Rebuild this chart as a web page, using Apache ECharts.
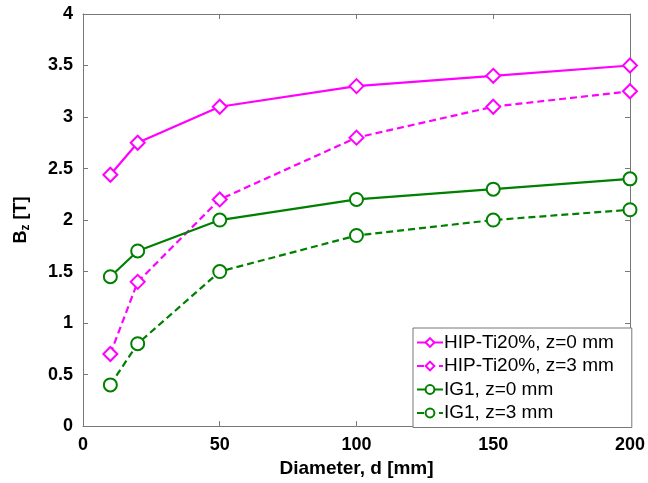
<!DOCTYPE html>
<html><head><meta charset="utf-8">
<script src="https://cdn.jsdelivr.net/npm/echarts@6/dist/echarts.min.js"></script>
<style>html,body{margin:0;padding:0;background:#fff}#c{width:648px;height:483px}</style>
</head><body><div id="c"></div>
<script>
const diameters = [10, 20, 50, 100, 150, 200];
const hipZ0 = [2.44, 2.75, 3.1, 3.3, 3.4, 3.5];
const hipZ3 = [0.7, 1.4, 2.2, 2.8, 3.1, 3.25];
const ig1Z0 = [1.45, 1.7, 2.0, 2.2, 2.3, 2.4];
const ig1Z3 = [0.4, 0.8, 1.5, 1.85, 2.0, 2.1];
const seriesNames = ['HIP-Ti20%, z=0 mm', 'HIP-Ti20%, z=3 mm', 'IG1, z=0 mm', 'IG1, z=3 mm'];

const MAG = '#ff00ff', GRN = '#008000';
const font = 'Liberation Sans, Arial, sans-serif';
function mk(name, vals, color, sym, dashed) {
  return {
    name, type: 'line', data: diameters.map((d, i) => [d, vals[i]]),
    symbol: sym, symbolSize: sym === 'emptyDiamond' ? 14 : 13,
    showSymbol: true,
    lineStyle: {color, width: 2.2, type: dashed ? [7, 4] : 'solid'},
    itemStyle: {color, borderColor: color, borderWidth: 2},
    emphasis: {disabled: true}, animation: false, z: 3
  };
}
const axisCommon = {
  axisLine: {show: true, onZero: false, lineStyle: {color: '#777', width: 1}},
  axisTick: {show: true, inside: true, length: 5, lineStyle: {color: '#777'}},
  splitLine: {show: false}
};
const chart = echarts.init(document.getElementById('c'));
chart.setOption({
  animation: false,
  backgroundColor: '#fff',
  grid: {left: 83, top: 14, right: 16, bottom: 55, containLabel: false},
  xAxis: [
    Object.assign({type: 'value', min: 0, max: 200, interval: 50, position: 'bottom',
      name: 'Diameter, d [mm]', nameLocation: 'middle', nameGap: 32,
      nameTextStyle: {fontFamily: font, fontWeight: 'bold', fontSize: 19, color: '#000'},
      axisLabel: {fontFamily: font, fontWeight: 'bold', fontSize: 18, color: '#000', margin: 10}}, axisCommon),
    Object.assign({type: 'value', min: 0, max: 200, interval: 50, position: 'top',
      axisLabel: {show: false}}, axisCommon)
  ],
  yAxis: [
    Object.assign({type: 'value', min: 0, max: 4, interval: 0.5, position: 'left',
      name: '{b|B}{s|z}{b| [T]}', nameLocation: 'middle', nameGap: 51, nameRotate: 90,
      nameTextStyle: {rich: {
        b: {fontFamily: font, fontWeight: 'bold', fontSize: 18, color: '#000'},
        s: {fontFamily: font, fontWeight: 'bold', fontSize: 12, color: '#000', verticalAlign: 'bottom', padding: [9, 0, 0, 0]}
      }},
      axisLabel: {fontFamily: font, fontWeight: 'bold', fontSize: 18, color: '#000', margin: 10,
        formatter: v => String(v)}}, axisCommon),
    Object.assign({type: 'value', min: 0, max: 4, interval: 0.5, position: 'right',
      axisLabel: {show: false}}, axisCommon)
  ],
  legend: {
    show: true, orient: 'vertical', left: 413, top: 328,
    data: seriesNames,
    backgroundColor: '#fff', borderColor: '#777', borderWidth: 1,
    padding: [5, 18, 5, 3], itemGap: 4.5, itemWidth: 26, itemHeight: 11,
    textStyle: {fontFamily: font, fontSize: 19, color: '#000', padding: [0, 0, 0, -4]},
    selectedMode: false
  },
  series: [
    mk(seriesNames[0], hipZ0, MAG, 'emptyDiamond', false),
    mk(seriesNames[1], hipZ3, MAG, 'emptyDiamond', true),
    mk(seriesNames[2], ig1Z0, GRN, 'emptyCircle', false),
    mk(seriesNames[3], ig1Z3, GRN, 'emptyCircle', true)
  ]
});
</script></body></html>
